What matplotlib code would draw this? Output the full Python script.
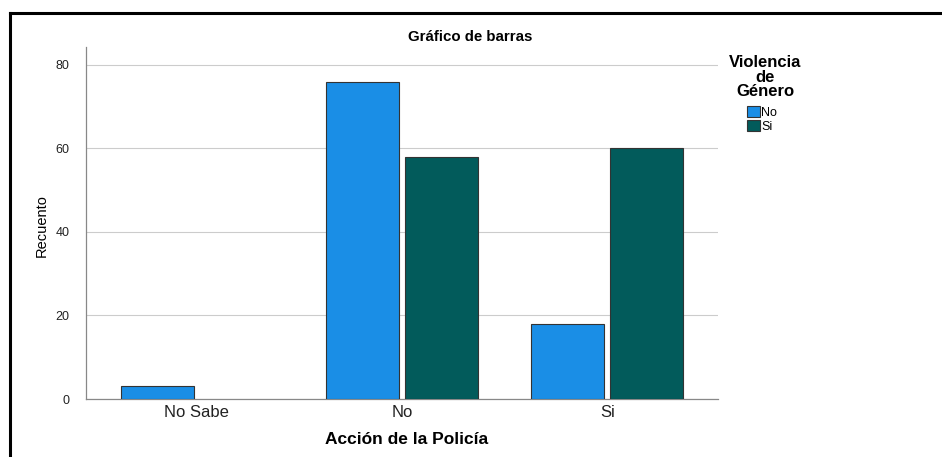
import matplotlib
matplotlib.use("Agg")
import matplotlib.pyplot as plt
import numpy as np
from matplotlib.lines import Line2D
from matplotlib.patches import Patch

plt.rcParams['font.family'] = ['Liberation Sans', 'DejaVu Sans']

categories = ["No Sabe", "No", "Si"]
series_names = ["No", "Si"]
values_no = [3, 76, 18]
values_si = [0, 58, 60]
colors = ["#1A8EE6", "#025B5B"]

fig = plt.figure(figsize=(9.42, 4.57), dpi=100)
ax = fig.add_axes([86/942, 1-399/457, (718-86)/942, (399-47)/457])

x = np.arange(len(categories))
w = 0.355
off = 0.193
for vals, c, sign in [(values_no, colors[0], -1), (values_si, colors[1], 1)]:
    ecs = ["#333333" if v > 0 else "none" for v in vals]
    ax.bar(x + sign*off, vals, width=w, color=c, edgecolor=ecs, linewidth=0.8, zorder=3)

ax.set_xlim(-0.54, 2.54)
ax.set_ylim(0, 84.3)
ax.set_yticks([0, 20, 40, 60, 80])
ax.set_xticks(x)
ax.set_xticklabels(categories, fontsize=12, color="#222222")
ax.tick_params(axis='y', length=0, pad=12, labelsize=9, labelcolor="#222222")
ax.tick_params(axis='x', length=0, pad=4)
ax.grid(axis='y', color="#cccccc", linewidth=0.8, zorder=0)
for s in ["top", "right"]:
    ax.spines[s].set_visible(False)
for s in ["left", "bottom"]:
    ax.spines[s].set_color("#888888")
    ax.spines[s].set_linewidth(0.9)

ax.set_ylabel("Recuento", fontsize=10.5)
ax.yaxis.set_label_coords(41.5/942, 1-226/457, transform=fig.transFigure)
ax.yaxis.label.set_va("center")
ax.set_xlabel("Acción de la Policía", fontsize=12.5, fontweight="bold")
ax.xaxis.set_label_coords(407/942, 1-440/457, transform=fig.transFigure)
ax.xaxis.label.set_va("center")
fig.text(470/942, 1-37/457, "Gráfico de barras", ha="center", va="center", fontsize=10.8, fontweight="bold")

fig.text(765/942, 1-77/457, "Violencia\nde\nGénero", ha="center", va="center",
         fontsize=12, fontweight="bold", linespacing=0.95)
handles = [Patch(facecolor=c, edgecolor="#333333", linewidth=0.8) for c in colors]
leg = fig.legend(handles, series_names, loc="upper left", bbox_to_anchor=(747/942, 1-106/457),
                 frameon=False, fontsize=9, handlelength=1.0, handleheight=0.95,
                 handletextpad=0.15, labelspacing=0.1, borderpad=0, borderaxespad=0)

# outer frame
lw = 2.2
fig.add_artist(Line2D([10/942, 10/942], [0, 1-13/457], transform=fig.transFigure, color="black", linewidth=lw))
fig.add_artist(Line2D([10/942, 1], [1-13/457, 1-13/457], transform=fig.transFigure, color="black", linewidth=lw))

fig.savefig("out.png", dpi=100)
